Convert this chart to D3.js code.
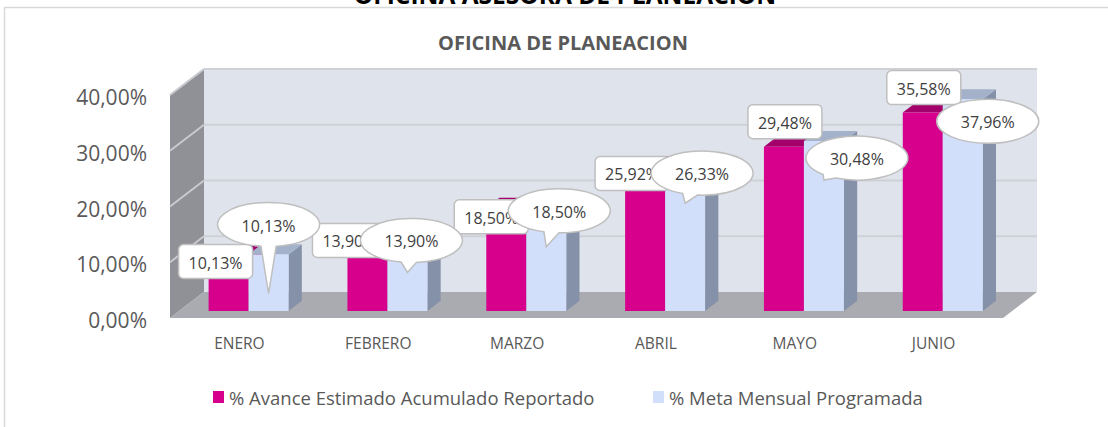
<!DOCTYPE html>
<html><head><meta charset="utf-8">
<script src="https://cdn.jsdelivr.net/npm/d3@7"></script>
<style>body{margin:0;background:#fff;} svg{display:block;font-family:'Open Sans',sans-serif;}</style>
</head><body><svg id="c" width="1108" height="427"></svg>
<script>
const categories = ["ENERO","FEBRERO","MARZO","ABRIL","MAYO","JUNIO"];
const avance = [10.13, 13.90, 18.50, 25.92, 29.48, 35.58];
const meta = [10.13, 13.90, 18.50, 26.33, 30.48, 37.96];
const seriesNames = ["% Avance Estimado Acumulado Reportado", "% Meta Mensual Programada"];
const yTicks = [0, 10, 20, 30, 40];
const mainTitle = "OFICINA ASESORA DE PLANEACION";
const chartTitle = "OFICINA DE PLANEACION";
// label placement nudges (px) relative to each bar's top
const avanceLabelNudge = [[-13,7],[-18,7],[-15,9],[-13,7],[1,-25],[1,-25]];
const metaLabelNudge = [[0,-30],[4,7],[13,3],[17,9],[33,17],[25,22]];

const loc = d3.formatLocale({decimal:",", thousands:".", grouping:[3], currency:["$",""]});
const fmt = v => loc.format(".2f")(v) + "%";

const svg = d3.select("#c");
const x = d3.scaleBand().domain(categories).range([170, 1003]);
const y = d3.scaleLinear().domain([0, 40]).range([318, 95]);
const DX = 34, DY = -26;
const P = (px, v, z) => [px + z*DX, y(v) + z*DY];
const poly = pts => "M" + pts.map(p => p.join(",")).join("L") + "Z";

// outer frame
svg.append("path").attr("d","M4.5,430V7.5H1112").attr("fill","none").attr("stroke","#d9d9d9").attr("stroke-width",1.5);
// top (clipped) title
svg.append("text").attr("x",565).attr("y",4).attr("text-anchor","middle")
  .attr("font-weight","bold").attr("font-size",24.5).attr("fill","#000").text(mainTitle);
svg.append("text").attr("x",563).attr("y",50).attr("text-anchor","middle")
  .attr("font-weight","bold").attr("font-size",20).attr("fill","#595959").text(chartTitle);

const [x0, x1] = x.range();
// walls & floor
svg.append("path").attr("d", poly([P(x0,0,1),P(x1,0,1),P(x1,40,1),P(x0,40,1)])).attr("fill","#dfe3ec");
svg.append("path").attr("d", poly([P(x0,0,0),P(x0,40,0),P(x0,40,1),P(x0,0,1)])).attr("fill","#909197");
svg.append("path").attr("d", poly([P(x0,0,0),P(x1,0,0),P(x1,0,1),P(x0,0,1)])).attr("fill","#aaabb0");
// gridlines
yTicks.filter(v => v > 0).forEach(v => {
  svg.append("path").attr("d", "M" + P(x0,v,1) + "L" + P(x1,v,1)).attr("stroke","#d0d1d7").attr("stroke-width",2).attr("fill","none");
  svg.append("path").attr("d", "M" + P(x0,v,0) + "L" + P(x0,v,1)).attr("stroke","#c9cacf").attr("stroke-width",2).attr("fill","none");
});

// axis labels
svg.append("g").selectAll("text").data(yTicks).join("text")
  .attr("x",147).attr("y", d => y(d) + 2).attr("text-anchor","end").attr("dominant-baseline","central")
  .attr("font-size",21).attr("fill","#595959").text(d => loc.format(".2f")(d) + "%");
svg.append("g").selectAll("text").data(categories).join("text")
  .attr("x", d => x(d) + x.bandwidth()/2).attr("y",343).attr("text-anchor","middle").attr("dominant-baseline","central")
  .attr("font-size",15.5).attr("fill","#595959").text(d => d);

// bars
const z0 = 0.27, z1 = 0.66;
const bw = x.bandwidth() * 0.288;
const series = [
  {vals: avance, front:"#d6008c", top:"#a3006b", side:"#9c0063", off:-1},
  {vals: meta, front:"#d1dffa", top:"#a3b1ca", side:"#8591a8", off:0}
];
const barTops = [[],[]];
categories.forEach((c, i) => {
  const cx = x(c) + x.bandwidth()/2;
  series.forEach((s, k) => {
    const v = s.vals[i];
    const xl = cx + s.off*bw, xr = xl + bw;
    const g = svg.append("g");
    g.append("path").attr("d", poly([P(xr,0,z0),P(xr,v,z0),P(xr,v,z1),P(xr,0,z1)])).attr("fill", s.side);
    g.append("path").attr("d", poly([P(xl,v,z0),P(xr,v,z0),P(xr,v,z1),P(xl,v,z1)])).attr("fill", s.top);
    g.append("path").attr("d", poly([P(xl,v,z0),P(xr,v,z0),P(xr,0,z0),P(xl,0,z0)])).attr("fill", s.front);
    barTops[k].push(P((xl+xr)/2, v, z0));
  });
});

// labels: avance (rounded rectangles)
const lw = 74, lh = 34;
avance.forEach((v, i) => {
  const [tx, ty] = barTops[0][i];
  const cx = tx + avanceLabelNudge[i][0], cy = ty + avanceLabelNudge[i][1];
  svg.append("rect").attr("x", cx - lw/2).attr("y", cy - lh/2).attr("width", lw).attr("height", lh)
    .attr("rx",5).attr("fill","#fff").attr("stroke","#bfbfbf").attr("stroke-width",1.5);
  svg.append("text").attr("x",cx).attr("y",cy+1).attr("text-anchor","middle").attr("dominant-baseline","central")
    .attr("font-size",16).attr("fill","#404040").text(fmt(v));
});
// labels: meta (ellipse callouts)
const rx = 51, ry = 22;
meta.forEach((v, i) => {
  const [bx, by] = barTops[1][i];
  const cx = bx + metaLabelNudge[i][0], cy = by + metaLabelNudge[i][1];
  const tipx = bx, tipy = by + 39;
  const inside = ((tipx-cx)/rx)**2 + ((tipy-cy)/ry)**2 < 1;
  let d;
  if (inside) {
    d = `M${cx-rx},${cy}A${rx},${ry} 0 1 1 ${cx+rx},${cy}A${rx},${ry} 0 1 1 ${cx-rx},${cy}Z`;
  } else {
    const a = Math.atan2((tipy-cy)/ry, (tipx-cx)/rx), dl = 0.15;
    const p1 = [cx + rx*Math.cos(a+dl), cy + ry*Math.sin(a+dl)];
    const p2 = [cx + rx*Math.cos(a-dl), cy + ry*Math.sin(a-dl)];
    d = `M${p1}A${rx},${ry} 0 1 1 ${p2}L${tipx},${tipy}Z`;
  }
  svg.append("path").attr("d", d).attr("fill","#fff").attr("stroke","#bfbfbf").attr("stroke-width",1.5);
  svg.append("text").attr("x",cx).attr("y",cy+1).attr("text-anchor","middle").attr("dominant-baseline","central")
    .attr("font-size",16).attr("fill","#404040").text(fmt(v));
});

// legend
const legX = [213, 653];
series.forEach((s, k) => {
  svg.append("rect").attr("x", legX[k]).attr("y",391).attr("width",11).attr("height",12).attr("fill", s.front);
  svg.append("text").attr("x", legX[k] + 16).attr("y",397).attr("dominant-baseline","central")
    .attr("font-size",18.5).attr("fill","#595959").text(seriesNames[k]);
});
</script></body></html>
